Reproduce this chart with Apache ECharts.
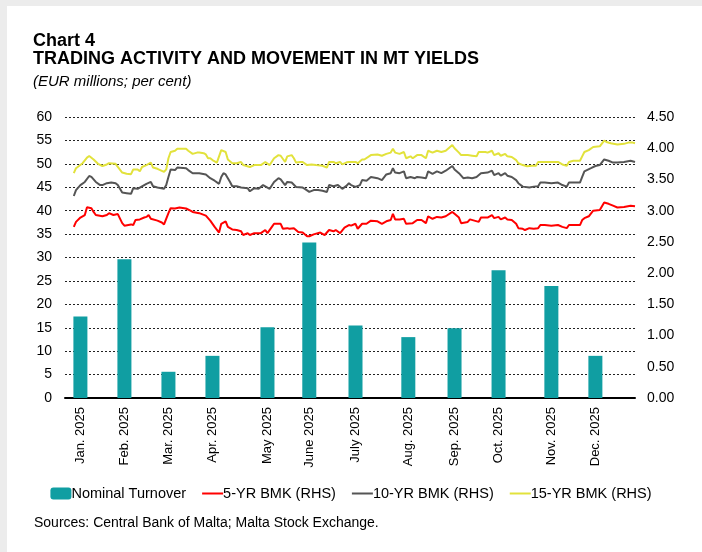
<!DOCTYPE html>
<html>
<head>
<meta charset="utf-8">
<script src="https://cdn.jsdelivr.net/npm/echarts@6/dist/echarts.min.js"></script>
<style>
html,body{margin:0;padding:0;background:#fff;}
#bg{position:absolute;left:0;top:0;width:695px;height:546px;border-left:7px solid #ececec;border-top:6px solid #ececec;}
#chart{position:absolute;left:0;top:0;width:702px;height:552px;}
</style>
</head>
<body>
<div id="bg"></div>
<div id="chart"></div>
<script>
// ---- Data ----
const months = ['Jan. 2025','Feb. 2025','Mar. 2025','Apr. 2025','May 2025','June 2025','July 2025','Aug. 2025','Sep. 2025','Oct. 2025','Nov. 2025','Dec. 2025'];
// trading-day index of each monthly turnover observation
const barDay = [7, 27, 47, 67, 92, 111, 132, 156, 177, 197, 221, 241];
const turnover = [17.4, 29.6, 5.6, 9.0, 15.1, 33.2, 15.5, 13.0, 14.9, 27.3, 23.9, 9.0];
const tradingDays = 260;

// [trading-day index, yield %]
const bmk5 = [
[4,2.74],[5,2.82],[7,2.89],[9,2.93],[10,3.055],[12,3.04],[13,2.98],[14,2.93],[17,2.91],[19,2.93],[20,2.96],[22,2.93],[24,2.945],[26,2.80],[27,2.76],[30,2.78],[31,2.77],[32,2.85],[34,2.86],[36,2.89],[37,2.90],[38,2.93],[39,2.87],[42,2.84],[44,2.81],[45,2.78],[47,2.96],[48,3.04],[50,3.035],[52,3.05],[55,3.035],[57,3.00],[58,2.98],[61,2.96],[64,2.92],[66,2.84],[68,2.74],[70,2.65],[71,2.79],[73,2.83],[74,2.74],[76,2.70],[78,2.69],[80,2.67],[81,2.61],[83,2.64],[84,2.61],[86,2.64],[89,2.64],[91,2.69],[92,2.64],[94,2.74],[95,2.79],[98,2.79],[99,2.71],[101,2.72],[102,2.71],[104,2.72],[106,2.66],[108,2.65],[110,2.59],[111,2.59],[113,2.62],[116,2.65],[118,2.61],[120,2.69],[122,2.67],[123,2.69],[125,2.64],[127,2.73],[129,2.77],[130,2.76],[132,2.79],[133,2.71],[135,2.79],[137,2.79],[139,2.84],[142,2.83],[144,2.79],[146,2.83],[148,2.85],[149,2.95],[150,2.86],[152,2.86],[154,2.87],[155,2.79],[158,2.80],[160,2.85],[162,2.85],[164,2.80],[165,2.91],[167,2.87],[169,2.90],[171,2.89],[173,2.91],[176,2.98],[177,2.95],[179,2.89],[180,2.80],[183,2.82],[184,2.86],[186,2.84],[188,2.82],[189,2.89],[192,2.89],[194,2.93],[195,2.88],[197,2.90],[198,2.86],[200,2.89],[201,2.86],[203,2.85],[205,2.79],[206,2.72],[208,2.71],[209,2.69],[211,2.72],[213,2.71],[215,2.72],[216,2.77],[218,2.77],[221,2.76],[224,2.77],[226,2.74],[228,2.72],[229,2.77],[231,2.77],[234,2.77],[235,2.85],[236,2.88],[238,2.91],[240,3.00],[243,3.01],[245,3.13],[247,3.11],[249,3.08],[251,3.05],[254,3.06],[257,3.08],[259,3.07]
];
const bmk10 = [
[4,3.235],[5,3.33],[7,3.41],[9,3.46],[11,3.555],[12,3.54],[14,3.46],[16,3.41],[17,3.41],[19,3.44],[21,3.45],[23,3.44],[24,3.41],[26,3.29],[28,3.28],[30,3.27],[31,3.36],[33,3.35],[35,3.39],[37,3.43],[39,3.46],[40,3.39],[42,3.37],[45,3.35],[46,3.41],[47,3.54],[48,3.66],[50,3.65],[51,3.69],[55,3.68],[56,3.65],[58,3.60],[61,3.60],[64,3.58],[66,3.52],[68,3.48],[70,3.43],[71,3.54],[72,3.60],[73,3.58],[75,3.46],[76,3.39],[78,3.39],[80,3.37],[83,3.36],[84,3.31],[86,3.36],[88,3.35],[90,3.41],[92,3.37],[93,3.35],[95,3.46],[97,3.52],[98,3.50],[100,3.41],[101,3.46],[103,3.45],[105,3.38],[108,3.37],[109,3.35],[111,3.30],[113,3.33],[115,3.33],[117,3.32],[119,3.30],[120,3.41],[122,3.39],[124,3.41],[126,3.35],[128,3.40],[129,3.44],[130,3.41],[132,3.38],[134,3.41],[135,3.49],[137,3.48],[139,3.54],[142,3.52],[144,3.49],[146,3.58],[148,3.60],[149,3.68],[150,3.61],[152,3.60],[154,3.63],[155,3.52],[157,3.54],[159,3.52],[160,3.54],[162,3.53],[164,3.52],[165,3.63],[167,3.59],[169,3.63],[171,3.60],[173,3.64],[176,3.715],[177,3.66],[179,3.60],[181,3.52],[183,3.53],[185,3.52],[187,3.54],[189,3.60],[192,3.61],[194,3.64],[195,3.57],[197,3.60],[198,3.56],[200,3.60],[201,3.56],[203,3.54],[205,3.49],[206,3.44],[208,3.385],[211,3.37],[213,3.385],[215,3.39],[216,3.45],[218,3.45],[221,3.44],[224,3.45],[226,3.41],[228,3.385],[229,3.45],[231,3.45],[234,3.45],[235,3.54],[236,3.63],[239,3.68],[241,3.715],[243,3.73],[245,3.82],[247,3.80],[249,3.77],[251,3.77],[254,3.78],[257,3.80],[259,3.78]
];
const bmk15 = [
[4,3.60],[5,3.68],[8,3.76],[10,3.85],[11,3.875],[13,3.82],[15,3.75],[17,3.715],[19,3.74],[20,3.76],[23,3.75],[24,3.70],[26,3.61],[28,3.59],[30,3.585],[31,3.66],[33,3.66],[34,3.63],[35,3.70],[37,3.73],[39,3.77],[40,3.69],[42,3.67],[45,3.62],[46,3.66],[47,3.84],[48,3.94],[50,3.96],[51,3.99],[55,3.99],[56,3.96],[58,3.91],[60,3.93],[61,3.93],[63,3.92],[64,3.90],[65,3.84],[66,3.84],[67,3.81],[69,3.77],[70,3.87],[71,3.97],[73,3.94],[74,3.82],[76,3.76],[78,3.76],[80,3.78],[81,3.73],[84,3.70],[86,3.73],[89,3.73],[91,3.78],[93,3.73],[95,3.84],[97,3.89],[98,3.88],[100,3.78],[101,3.87],[103,3.89],[104,3.84],[105,3.77],[107,3.78],[108,3.78],[110,3.73],[112,3.74],[114,3.73],[117,3.72],[119,3.69],[120,3.78],[122,3.78],[123,3.76],[125,3.78],[126,3.74],[128,3.775],[129,3.78],[130,3.78],[132,3.78],[133,3.76],[135,3.82],[136,3.82],[139,3.89],[142,3.90],[144,3.88],[146,3.91],[148,3.93],[149,3.99],[150,3.93],[152,3.91],[154,3.94],[155,3.84],[157,3.87],[158,3.84],[160,3.89],[162,3.89],[164,3.84],[165,3.96],[167,3.93],[169,3.96],[171,3.94],[173,3.96],[176,4.05],[177,4.00],[179,3.93],[180,3.89],[183,3.89],[185,3.88],[187,3.87],[188,3.94],[191,3.94],[192,3.93],[194,3.96],[195,3.89],[197,3.92],[198,3.88],[200,3.91],[201,3.87],[203,3.86],[205,3.81],[206,3.76],[208,3.73],[210,3.71],[212,3.72],[214,3.72],[215,3.78],[218,3.78],[221,3.78],[224,3.78],[226,3.74],[228,3.72],[229,3.78],[231,3.80],[234,3.80],[235,3.87],[236,3.94],[238,3.97],[240,4.02],[243,4.03],[245,4.12],[246,4.10],[248,4.08],[251,4.06],[254,4.07],[256,4.09],[258,4.09],[259,4.08]
];

const leftTicks = {min: 0, max: 60, interval: 5};
const rightTicks = {min: 0, max: 4.5, interval: 0.5};

// ---- Build ----
const days = Array.from({length: tradingDays}, (_, i) => String(i));
const labelOf = {};
barDay.forEach((d, i) => { labelOf[d] = months[i]; });
const barData = barDay.map((d, i) => [String(d), turnover[i]]);
const toPairs = arr => arr.map(p => [String(p[0]), p[1]]);

const FONT = 'Liberation Sans, Arial, sans-serif';
const chart = echarts.init(document.getElementById('chart'), null, {renderer: 'canvas'});
const lineLegend = name => ({name: name, itemStyle: {opacity: 0}});
chart.setOption({
  animation: false,
  textStyle: {fontFamily: FONT, color: '#000'},
  title: [
    {text: 'Chart 4', left: 33, top: 32.5, padding: 0,
     textStyle: {fontFamily: FONT, fontSize: 18, fontWeight: 'bold', color: '#000'}},
    {text: 'TRADING ACTIVITY AND MOVEMENT IN MT YIELDS', left: 33, top: 50, padding: 0,
     textStyle: {fontFamily: FONT, fontSize: 18, fontWeight: 'bold', color: '#000'}},
    {text: '(EUR millions; per cent)', left: 33, top: 74, padding: 0,
     textStyle: {fontFamily: FONT, fontSize: 15, fontStyle: 'italic', fontWeight: 'normal', color: '#000'}},
    {text: 'Sources: Central Bank of Malta; Malta Stock Exchange.', left: 34, top: 516, padding: 0,
     textStyle: {fontFamily: FONT, fontSize: 14, fontWeight: 'normal', color: '#000'}}
  ],
  legend: {
    top: 486, left: 'center', itemWidth: 21, itemHeight: 12, itemGap: 15, padding: 0,
    textStyle: {fontFamily: FONT, fontSize: 14.5, color: '#000', padding: [0, 0, 0, -5]},
    data: ['Nominal Turnover', lineLegend('5-YR BMK (RHS)'), lineLegend('10-YR BMK (RHS)'), lineLegend('15-YR BMK (RHS)')]
  },
  grid: {left: 65, right: 67, top: 117, bottom: 154},
  xAxis: {
    type: 'category', data: days, boundaryGap: false,
    axisLine: {show: true, lineStyle: {color: '#000', width: 2}},
    axisTick: {show: false},
    splitLine: {show: false},
    axisLabel: {
      rotate: 90, margin: 9, fontSize: 13, color: '#000', fontFamily: FONT,
      interval: (idx) => labelOf[idx] !== undefined,
      formatter: (v) => labelOf[Number(v)] || ''
    }
  },
  yAxis: [
    {type: 'value', min: leftTicks.min, max: leftTicks.max, interval: leftTicks.interval,
     axisLine: {show: false}, axisTick: {show: false},
     axisLabel: {fontSize: 14, color: '#000', margin: 13, fontFamily: FONT},
     splitLine: {show: true, lineStyle: {color: '#222', type: [2, 2], width: 1}}},
    {type: 'value', min: rightTicks.min, max: rightTicks.max, interval: rightTicks.interval,
     axisLine: {show: false}, axisTick: {show: false},
     axisLabel: {fontSize: 14, color: '#000', margin: 12, fontFamily: FONT,
       formatter: v => v.toFixed(2)},
     splitLine: {show: false}}
  ],
  series: [
    {name: 'Nominal Turnover', type: 'bar', yAxisIndex: 0, barWidth: 14,
     itemStyle: {color: '#109ea2'}, data: barData, z: 1},
    {name: '5-YR BMK (RHS)', type: 'line', yAxisIndex: 1, symbol: 'none', connectNulls: true,
     lineStyle: {color: '#ff0000', width: 2}, itemStyle: {color: '#ff0000'}, data: toPairs(bmk5), z: 3},
    {name: '10-YR BMK (RHS)', type: 'line', yAxisIndex: 1, symbol: 'none', connectNulls: true,
     lineStyle: {color: '#555555', width: 2}, itemStyle: {color: '#555555'}, data: toPairs(bmk10), z: 3},
    {name: '15-YR BMK (RHS)', type: 'line', yAxisIndex: 1, symbol: 'none', connectNulls: true,
     lineStyle: {color: '#e2e23c', width: 2}, itemStyle: {color: '#e2e23c'}, data: toPairs(bmk15), z: 3}
  ]
});
</script>
</body>
</html>
